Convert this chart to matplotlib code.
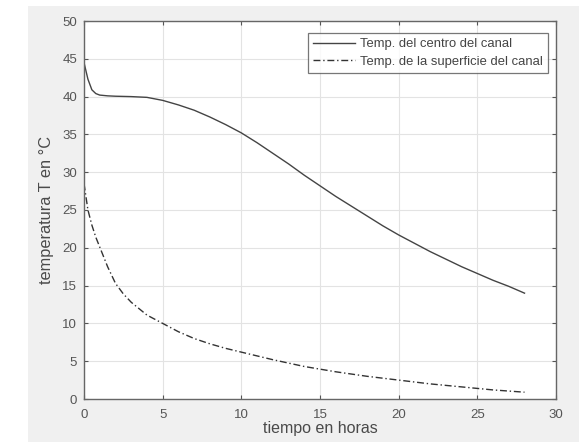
import matplotlib
matplotlib.use("Agg")
import matplotlib.pyplot as plt
from matplotlib.patches import Rectangle

# Data
t_center = [0, 0.25, 0.5, 0.75, 1, 1.5, 2, 3, 4, 5, 6, 7, 8, 9, 10, 11, 12, 13, 14,
            15, 16, 17, 18, 19, 20, 21, 22, 23, 24, 25, 26, 27, 28]
T_center = [44.5, 42.3, 40.9, 40.4, 40.2, 40.1, 40.05, 40.0, 39.9, 39.5, 38.9, 38.2,
            37.3, 36.3, 35.2, 33.9, 32.5, 31.1, 29.6, 28.2, 26.8, 25.5, 24.2, 22.9,
            21.7, 20.6, 19.5, 18.5, 17.5, 16.6, 15.7, 14.9, 14.0]
t_surf = [0, 0.25, 0.5, 0.75, 1, 1.5, 2, 2.5, 3, 4, 5, 6, 7, 8, 9, 10, 12, 14, 16,
          18, 20, 22, 24, 26, 28]
T_surf = [28.5, 25.0, 23.0, 21.4, 20.1, 17.5, 15.3, 13.9, 12.8, 11.1, 10.0, 8.9, 8.0,
          7.3, 6.7, 6.2, 5.2, 4.3, 3.6, 3.0, 2.5, 2.0, 1.6, 1.2, 0.9]
x_ticks = [0, 5, 10, 15, 20, 25, 30]
y_ticks = [0, 5, 10, 15, 20, 25, 30, 35, 40, 45, 50]
label_center = "Temp. del centro del canal"
label_surf = "Temp. de la superficie del canal"
xlabel = "tiempo en horas"
ylabel = "temperatura T en °C"

plt.rcParams['font.family'] = ['Liberation Sans', 'DejaVu Sans']

W, H = 588, 442
fig = plt.figure(figsize=(W / 100, H / 100), dpi=100, facecolor="white")
fig.patches.append(Rectangle((28 / W, 0), (579 - 28) / W, (442 - 6) / H,
                             transform=fig.transFigure, facecolor="#f0f0f0",
                             edgecolor="none", zorder=-10))

ax = fig.add_axes([84 / W, 1 - 399 / H, (556 - 84) / W, (399 - 21) / H])
ax.set_facecolor("white")
ax.plot(t_center, T_center, color="#444444", lw=1.0, ls="-", label=label_center)
ax.plot(t_surf, T_surf, color="#333333", lw=1.0, ls="-.", dashes=(5, 2, 1, 2),
        label=label_surf)

ax.set_xlim(0, 30)
ax.set_ylim(0, 50)
ax.set_xticks(x_ticks)
ax.set_yticks(y_ticks)
ax.grid(True, color="#e3e3e3", lw=0.8)
ax.set_axisbelow(True)
ax.tick_params(direction="in", length=3, width=0.8, colors="#555555",
               labelcolor="#555555", labelsize=9.5, top=True, right=True)
ax.tick_params(axis="x", pad=7)
ax.tick_params(axis="y", pad=5)
for s in ax.spines.values():
    s.set_color("#666666")
    s.set_linewidth(1.0)

ax.set_xlabel(xlabel, fontsize=11.5, color="#4a4a4a", labelpad=0)
ax.set_ylabel(ylabel, fontsize=11.8, color="#4a4a4a", labelpad=6)

leg = ax.legend(loc="upper right", bbox_to_anchor=(0.983, 0.968), fontsize=9.4,
                frameon=True, fancybox=False, edgecolor="#555555",
                handlelength=3.2, borderpad=0.4, labelspacing=0.4,
                handletextpad=0.4, borderaxespad=0)
leg.get_frame().set_linewidth(0.9)
for txt in leg.get_texts():
    txt.set_color("#444444")

fig.savefig("out.png", dpi=100, facecolor=fig.get_facecolor())
